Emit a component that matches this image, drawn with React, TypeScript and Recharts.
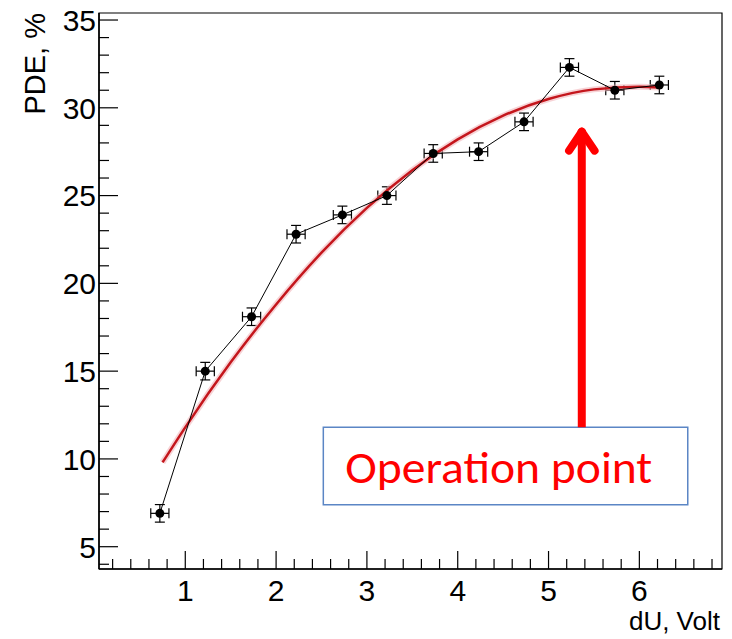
import {
  ComposedChart,
  Scatter,
  Line,
  XAxis,
  YAxis,
  ErrorBar,
  ReferenceArea,
  ReferenceLine,
} from 'recharts';

// measured points (dU, PDE) with errors
const dU = [0.72, 1.22, 1.73, 2.22, 2.73, 3.22, 3.73, 4.23, 4.73, 5.23, 5.73, 6.22];
const pde = [6.9, 15.0, 18.1, 22.8, 23.9, 25.0, 27.4, 27.5, 29.2, 32.3, 31.0, 31.3];
const dUErr = [0.1, 0.1, 0.1, 0.1, 0.1, 0.1, 0.1, 0.1, 0.1, 0.1, 0.1, 0.1];
const pdeErr = [0.5, 0.5, 0.5, 0.5, 0.5, 0.5, 0.5, 0.5, 0.5, 0.5, 0.5, 0.5];

// fit curve
const fitX = [0.75, 1.0, 1.5, 2.0, 2.5, 3.0, 3.5, 4.0, 4.5, 5.0, 5.5, 6.0, 6.22];
const fitY = [9.8, 11.8, 15.5, 18.8, 21.75, 24.3, 26.45, 28.2, 29.55, 30.5, 31.05, 31.2, 31.15];

const xTicks = Array.from({ length: 34 }, (_, i) => Math.round((i + 1) * 2) / 10);
const yTicks = Array.from({ length: 32 }, (_, i) => i + 4);

const points = dU.map((x, i) => ({ x, y: pde[i], ex: dUErr[i], ey: pdeErr[i] }));
const fit = fitX.map((x, i) => ({ x, y: fitY[i] }));

const FONT = '"Liberation Sans", Arial, Helvetica, sans-serif';
const RED = '#ff0000';

const isMajor = (v: number, step: number) => Math.abs(v / step - Math.round(v / step)) < 1e-6;

const XTick = ({ x, y, payload }: any) => {
  const major = isMajor(payload.value, 1);
  return (
    <g>
      <line x1={x} x2={x} y1={y} y2={y - (major ? 18 : 10)} stroke="#000" strokeWidth={1.2} />
      {major && (
        <text x={x} y={y + 32} textAnchor="middle" fontSize={30} fontFamily={FONT} fill="#000">
          {payload.value}
        </text>
      )}
    </g>
  );
};

const YTick = ({ x, y, payload }: any) => {
  const major = isMajor(payload.value, 5);
  return (
    <g>
      <line x1={x} x2={x + (major ? 19 : 10)} y1={y} y2={y} stroke="#000" strokeWidth={1.2} />
      {major && (
        <text x={x - 3} y={y} dy="0.36em" textAnchor="end" fontSize={30} fontFamily={FONT} fill="#000">
          {payload.value}
        </text>
      )}
    </g>
  );
};

const Dot = (p: any) => <circle cx={p.cx} cy={p.cy} r={4.5} fill="#000" />;

const BoxLabel = ({ viewBox }: any) => (
  <text
    x={viewBox.x + 22}
    y={viewBox.y + 56}
    fontSize={45}
    fontFamily='Carlito, Calibri, Lato, sans-serif'
    fill={RED}
    textLength={307}
    lengthAdjust="spacingAndGlyphs"
  >
    Operation point
  </text>
);

export default function App() {
  return (
    <div style={{ position: 'absolute', left: 0, top: 0, width: 732, height: 639, background: '#fff' }}>
      <ComposedChart width={732} height={639} margin={{ top: 13, right: 10, bottom: 40, left: 39 }}>
        <XAxis
          dataKey="x"
          type="number"
          domain={[0.05, 6.91]}
          allowDataOverflow
          ticks={xTicks}
          interval={0}
          tickSize={0}
          tickMargin={0}
          tickLine={false}
          tick={<XTick />}
          height={30}
          axisLine={{ stroke: '#000', strokeWidth: 1.5 }}
          label={({ viewBox }: any) => (
            <text
              x={viewBox.x + viewBox.width - 2}
              y={viewBox.y + 61}
              textAnchor="end"
              fontSize={26}
              fontFamily={FONT}
              fill="#000"
            >
              dU, Volt
            </text>
          )}
        />
        <YAxis
          type="number"
          domain={[3.73, 35.4]}
          allowDataOverflow
          ticks={yTicks}
          interval={0}
          tickSize={0}
          tickMargin={0}
          tickLine={false}
          tick={<YTick />}
          width={60}
          axisLine={{ stroke: '#000', strokeWidth: 1.5 }}
          label={() => (
            <text
              x={45}
              y={13}
              transform="rotate(-90 45 13)"
              textAnchor="end"
              fontSize={29}
              fontFamily={FONT}
              fill="#000"
            >
              PDE, %
            </text>
          )}
        />
        <ReferenceArea x1={0.05} x2={6.91} y1={3.73} y2={35.4} fill="none" stroke="#000" strokeWidth={1.2} />
        <Scatter
          data={points}
          dataKey="y"
          line={{ stroke: '#000', strokeWidth: 1 }}
          lineType="joint"
          shape={<Dot />}
          isAnimationActive={false}
        >
          <ErrorBar dataKey="ex" direction="x" width={5} stroke="#000" strokeWidth={1.2} isAnimationActive={false} />
          <ErrorBar dataKey="ey" direction="y" width={5} stroke="#000" strokeWidth={1.2} isAnimationActive={false} />
        </Scatter>
        <Line
          data={fit}
          dataKey="y"
          type="monotone"
          dot={false}
          stroke="#f2b6ba"
          strokeOpacity={0.6}
          strokeWidth={6}
          isAnimationActive={false}
          activeDot={false}
        />
        <Line
          data={fit}
          dataKey="y"
          type="monotone"
          dot={false}
          stroke="#c4161c"
          strokeWidth={2.5}
          isAnimationActive={false}
          activeDot={false}
        />
        <ReferenceArea
          x1={2.52}
          x2={6.533}
          y1={7.39}
          y2={11.8}
          fill="#fff"
          fillOpacity={1}
          stroke="#5b86c5"
          strokeWidth={1.5}
          label={<BoxLabel />}
        />
        <ReferenceLine
          segment={[{ x: 5.366, y: 11.8 }, { x: 5.366, y: 28.6 }]}
          stroke={RED}
          strokeWidth={8}
        />
        <ReferenceLine
          segment={[{ x: 5.226, y: 27.56 }, { x: 5.366, y: 28.64 }]}
          stroke={RED}
          strokeWidth={8}
          strokeLinecap="round"
        />
        <ReferenceLine
          segment={[{ x: 5.507, y: 27.56 }, { x: 5.366, y: 28.64 }]}
          stroke={RED}
          strokeWidth={8}
          strokeLinecap="round"
        />
      </ComposedChart>
    </div>
  );
}
